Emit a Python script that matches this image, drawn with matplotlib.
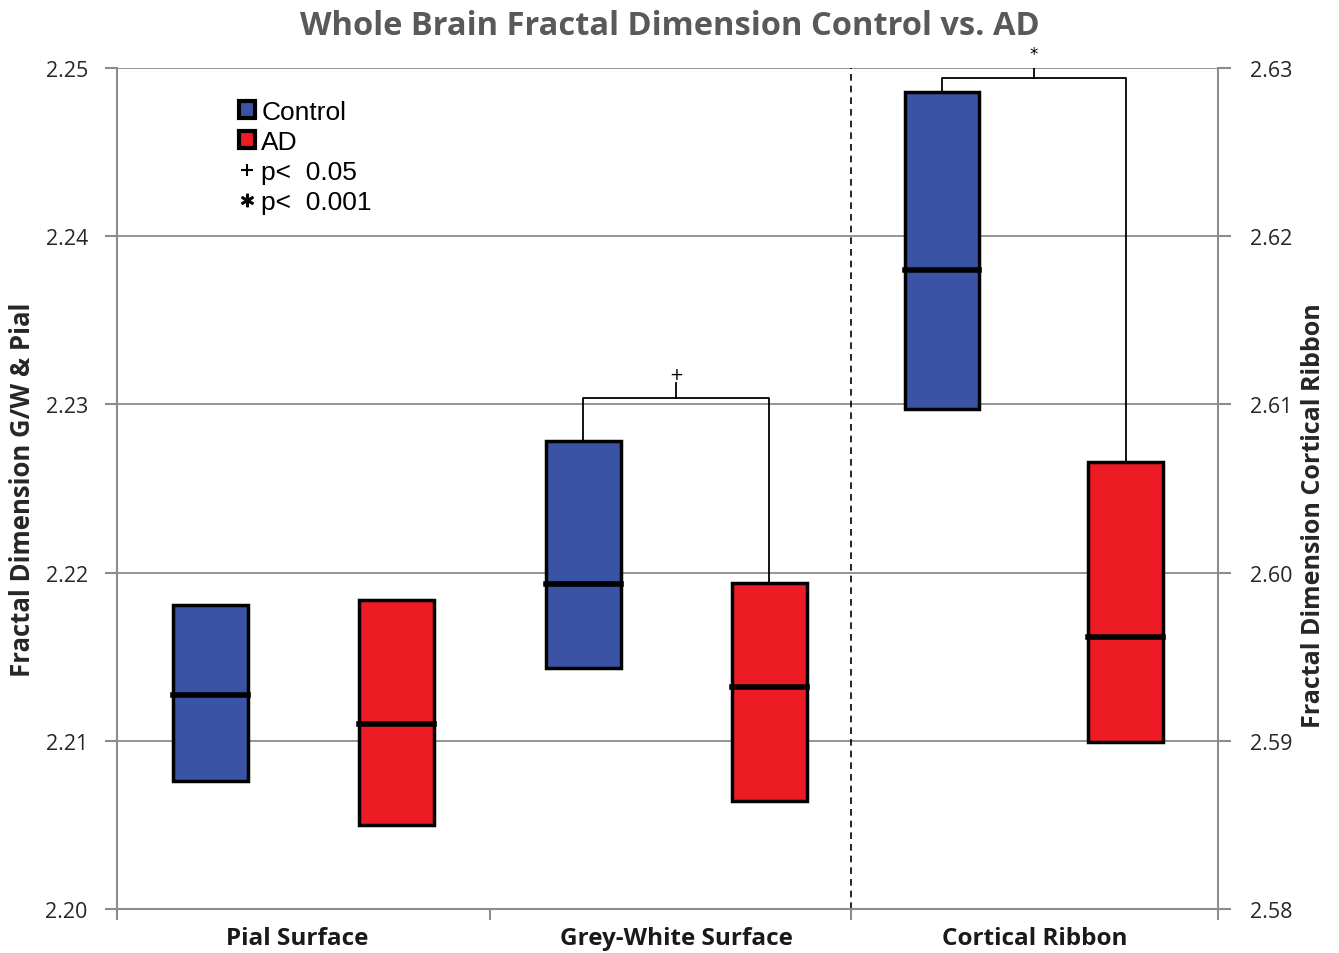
import matplotlib.pyplot as plt
import numpy as np
from matplotlib.patches import Patch
from matplotlib.lines import Line2D

# data
groups = ["Pial Surface", "Grey-White Surface", "Cortical Ribbon"]
ctrl_low = [2.2076, 2.2143, 2.6097]
ctrl_med = [2.2127, 2.2193, 2.6180]
ctrl_high = [2.2181, 2.2278, 2.6286]
ad_low = [2.2050, 2.2064, 2.5899]
ad_med = [2.2110, 2.2132, 2.5962]
ad_high = [2.2184, 2.2194, 2.6066]
left_ticks = [2.20, 2.21, 2.22, 2.23, 2.24, 2.25]
right_ticks = [2.58, 2.59, 2.60, 2.61, 2.62, 2.63]
# significance brackets: group index, bracket level, marker
sig = [(1, 2.2304, "+"), (2, 2.6294, "*")]

# box positions on the category axis
ctrl_x = [0.255, 1.27, 2.248]
ad_x = [0.762, 1.777, 2.749]
group_edges = [0, 1.015, 2, 3]
label_x = [0.49, 1.525, 2.5]

blue = "#3A53A4"
red = "#ED1C24"
grey = "#8C8C8C"
width = 0.204

fig = plt.figure(figsize=(13.39, 9.54), dpi=100)
ax = fig.add_axes([0.0874, 0.0461, 0.8222, 0.8816])
ax2 = ax.twinx()

ax.set_xlim(0, 3)
ax.set_ylim(2.20, 2.25)
ax2.set_ylim(2.58, 2.63)

for a in (ax, ax2):
    for s in a.spines.values():
        s.set_visible(False)
ax.spines["left"].set_visible(True)
ax.spines["bottom"].set_visible(True)
ax2.spines["right"].set_visible(True)
for s in (ax.spines["left"], ax.spines["bottom"], ax2.spines["right"]):
    s.set_color(grey)
    s.set_linewidth(1.5)

ax.set_yticks(left_ticks)
ax.set_yticklabels(["%.2f" % t for t in left_ticks])
ax2.set_yticks(right_ticks)
ax2.set_yticklabels(["%.2f" % t for t in right_ticks])
for t in left_ticks:
    ax.axhline(t, color=grey, lw=1.3, zorder=0)

ax.set_xticks(group_edges)
ax.set_xticklabels([])
ax.set_xticks(label_x, minor=True)
ax.set_xticklabels(groups, minor=True, fontsize=17.5, fontweight="bold",
                   family="Open Sans", color="#1a1a1a")
ax.tick_params(axis="x", which="minor", length=0, pad=12)
ax.tick_params(axis="x", which="major", length=8, color=grey, width=1.5)
ax.tick_params(axis="y", length=9, color=grey, width=1.5, labelsize=15.5, pad=12)
ax2.tick_params(axis="y", length=9, color=grey, width=1.5, labelsize=15.5, pad=14)
for lab in ax.get_yticklabels() + ax2.get_yticklabels():
    lab.set_family("Open Sans")
    lab.set_color("#262626")

ax.axvline(2, color="black", ls=(0, (4, 3)), lw=1.2, zorder=1)


def draw_box(a, x, low, med, high, color):
    a.bar(x, high - low, width=width, bottom=low, color=color,
          edgecolor="black", linewidth=2.5, zorder=3)
    a.plot([x - width / 2, x + width / 2], [med, med], color="black", lw=4, zorder=4)


for i in range(3):
    a = ax if i < 2 else ax2
    draw_box(a, ctrl_x[i], ctrl_low[i], ctrl_med[i], ctrl_high[i], blue)
    draw_box(a, ad_x[i], ad_low[i], ad_med[i], ad_high[i], red)

for i, level, mark in sig:
    a = ax if i < 2 else ax2
    xl, xr = ctrl_x[i], ad_x[i]
    xm = (xl + xr) / 2
    a.plot([xl, xl, xr, xr], [ctrl_high[i], level, level, ad_high[i]],
           color="black", lw=1.3, zorder=2)
    a.plot([xm, xm], [level, level + 0.0009], color="black", lw=1.3, zorder=2)
    a.text(xm, level + 0.0009, mark, ha="center", va="bottom", fontsize=12)

ax.set_ylabel("Fractal Dimension G/W & Pial", fontsize=18.5, fontweight="bold",
              family="Open Sans", color="#262626", va="center")
ax.yaxis.set_label_coords(-0.0863, 0.5)
ax2.set_ylabel("Fractal Dimension Cortical Ribbon", fontsize=18, fontweight="bold",
               family="Open Sans", color="#262626", rotation=90, va="center")
ax2.yaxis.set_label_coords(1.087, 0.4685)
fig.suptitle("Whole Brain Fractal Dimension Control vs. AD", fontsize=23.5,
             fontweight="bold", family="Open Sans", color="#595959", y=0.99)

handles = [
    Patch(facecolor=blue, edgecolor="black", linewidth=3),
    Patch(facecolor=red, edgecolor="black", linewidth=3),
    Line2D([], [], ls="", marker="+", color="black", markersize=9, markeredgewidth=1.5),
    Line2D([], [], ls="", marker=r"$\ast$", color="black", markersize=9),
]
labels = ["Control", "AD", "p<  0.05", "p<  0.001"]
ax.legend(handles, labels, loc="upper left", bbox_to_anchor=(0.089, 0.99),
          frameon=False, handlelength=0.6, handleheight=0.6,
          handletextpad=0.25, labelspacing=0.22,
          prop={"family": "Liberation Sans", "size": 19})

fig.savefig("out.png", dpi=100)
